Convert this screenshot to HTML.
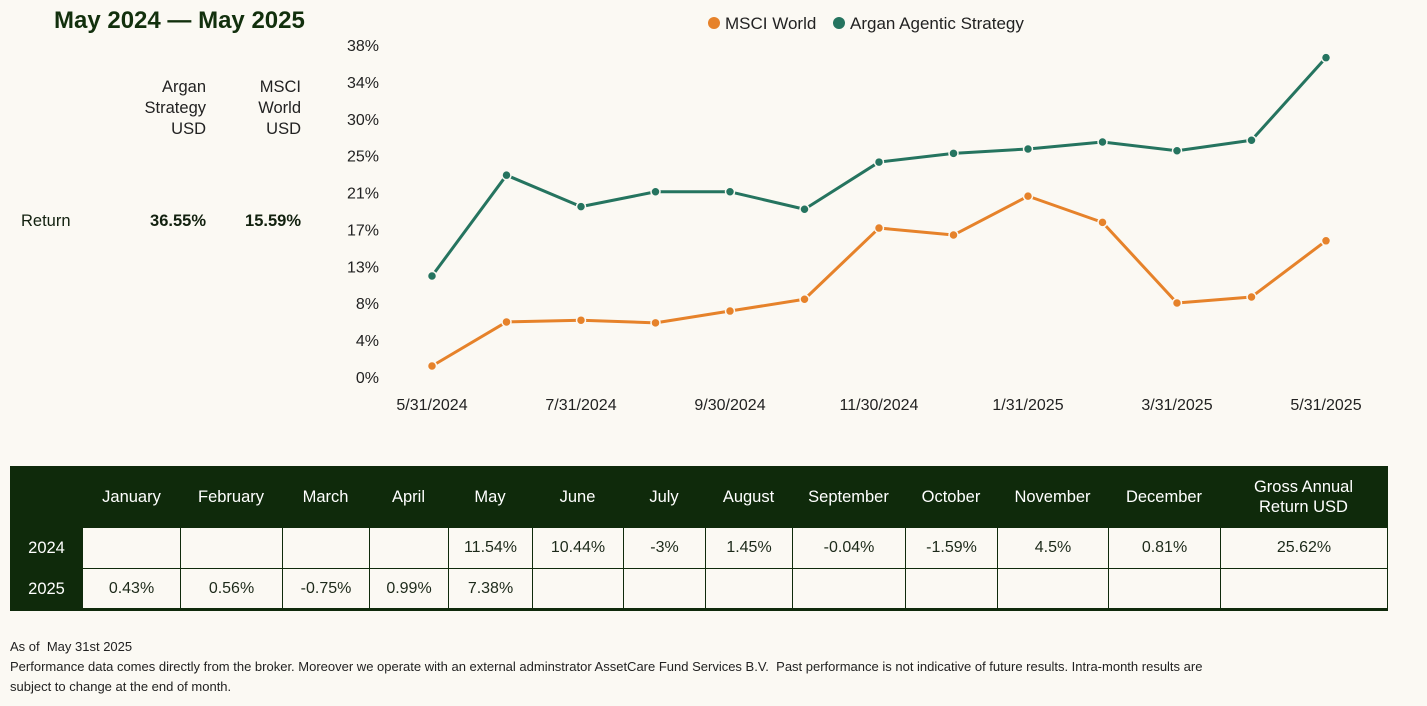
<!DOCTYPE html>
<html><head><meta charset="utf-8"><style>
body{margin:0;width:1427px;height:706px;background:#fbf9f3;font-family:"Liberation Sans",sans-serif;color:#12210f;position:relative;overflow:hidden}
.a{position:absolute}
#tbl{position:absolute;left:10px;top:466px;width:1378px;height:145px;background:#0f2a0b}
.c{position:absolute;background:#fbf9f3;display:flex;align-items:center;justify-content:center;font-size:16px;color:#1d2a1a}
.h{position:absolute;color:#fff;font-size:16.5px;display:flex;align-items:center;justify-content:center;text-align:center;line-height:20px}
</style></head><body>
<div class="a" style="left:54px;top:7px;font-size:24px;font-weight:bold;color:#12300d">May 2024 — May 2025</div>
<div class="a" style="left:110px;top:77px;width:96px;text-align:right;font-size:16.5px;line-height:21px;color:#222">Argan<br>Strategy<br>USD</div>
<div class="a" style="left:220px;top:77px;width:81px;text-align:right;font-size:16.5px;line-height:21px;color:#222">MSCI<br>World<br>USD</div>
<div class="a" style="left:21px;top:212px;font-size:16.5px">Return</div>
<div class="a" style="left:110px;top:212px;width:96px;text-align:right;font-size:16.5px;font-weight:bold">36.55%</div>
<div class="a" style="left:220px;top:212px;width:81px;text-align:right;font-size:16.5px;font-weight:bold">15.59%</div>
<svg class="a" style="left:0;top:0" width="1427" height="430" id="chart"></svg>
<div id="tbl"></div>
<div class="a" style="left:10px;top:637px;font-size:13px;line-height:20px;color:#222;width:1300px">As of&nbsp; May 31st 2025<br>Performance data comes directly from the broker. Moreover we operate with an external adminstrator AssetCare Fund Services B.V.&nbsp; Past performance is not indicative of future results. Intra-month results are<br>subject to change at the end of month.</div>
<script>
const dates=["5/31/2024","6/30/2024","7/31/2024","8/31/2024","9/30/2024","10/31/2024","11/30/2024","12/31/2024","1/31/2025","2/28/2025","3/31/2025","4/30/2025","5/31/2025"];
const argan=[11.56,23.1,19.5,21.2,21.2,19.2,24.6,25.6,26.1,26.9,25.9,27.1,36.55];
const msci=[1.26,6.3,6.5,6.2,7.55,8.9,17.05,16.25,20.7,17.7,8.47,9.16,15.59];
const yTicks=["0%","4%","8%","13%","17%","21%","25%","30%","34%","38%"];
const yMax=38;
const NS="http://www.w3.org/2000/svg";
const svg=document.getElementById('chart');
const X=i=>432+i*(1326-432)/(dates.length-1);
const Y=v=>377-v*(377-45)/yMax;
function mk(t,a){const e=document.createElementNS(NS,t);for(const k in a)e.setAttribute(k,a[k]);svg.appendChild(e);return e;}
yTicks.forEach((t,i)=>{const e=mk('text',{x:379,y:377-i*(377-45)/(yTicks.length-1)+6,'text-anchor':'end','font-size':16,fill:'#222','font-family':'Liberation Sans'});e.textContent=t;

});
dates.forEach((d,i)=>{if(i%2)return;const e=mk('text',{x:X(i),y:410,'text-anchor':'middle','font-size':16,fill:'#222','font-family':'Liberation Sans'});e.textContent=d;

});
function series(vals,col,name){const p=mk('polyline',{points:vals.map((v,i)=>X(i)+','+Y(v)).join(' '),fill:'none',stroke:col,'stroke-width':3,'stroke-linejoin':'round'});


vals.forEach((v,i)=>{const c=mk('circle',{cx:X(i),cy:Y(v),r:4.5,fill:col,stroke:'#fbf9f3','stroke-width':1.5});

});}
series(msci,'#e6822a','msci');
series(argan,'#25745f','argan');
[[714,'#e6822a','MSCI World','legend-msci'],[839,'#25745f','Argan Agentic Strategy','legend-argan']].forEach(l=>{
const c=mk('circle',{cx:l[0],cy:23,r:6,fill:l[1]});
const t=mk('text',{x:l[0]+11,y:29,'font-size':17,fill:'#222','font-family':'Liberation Sans'});t.textContent=l[2];

});
const cols=[10,83,180,282,369,448,532,623,705,792,905,997,1108,1220,1387];
const heads=["","January","February","March","April","May","June","July","August","September","October","November","December","Gross Annual<br>Return USD"];
const r2024=["","","","","11.54%","10.44%","-3%","1.45%","-0.04%","-1.59%","4.5%","0.81%","25.62%"];
const r2025=["0.43%","0.56%","-0.75%","0.99%","7.38%","","","","","","","",""];
const tbl=document.getElementById('tbl');
const rows=[[528,568,"2024",r2024],[569,608,"2025",r2025]];
heads.forEach((h,i)=>{const d=document.createElement('div');d.className='h';d.style.left=(cols[i]-10)+'px';d.style.width=(cols[i+1]-cols[i])+'px';d.style.top='0px';d.style.height='62px';d.innerHTML=h;

tbl.appendChild(d);});
rows.forEach(r=>{const l=document.createElement('div');l.className='h';l.style.left='0px';l.style.width='73px';l.style.top=(r[0]-466)+'px';l.style.height=(r[1]-r[0])+'px';l.textContent=r[2];

tbl.appendChild(l);
r[3].forEach((v,i)=>{const c=document.createElement('div');c.className='c';c.style.left=(cols[i+1]-10+(i?1:0))+'px';c.style.width=(cols[i+2]-cols[i+1]-(i?1:0))+'px';c.style.top=(r[0]-466)+'px';c.style.height=(r[1]-r[0])+'px';c.textContent=v;

tbl.appendChild(c);});});
</script>
</body></html>
